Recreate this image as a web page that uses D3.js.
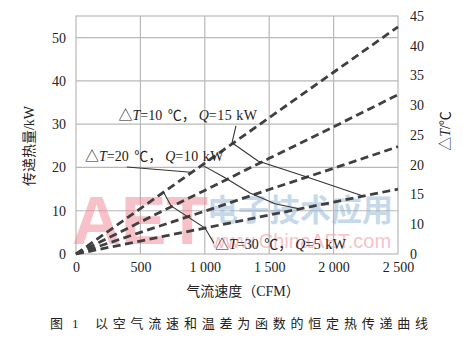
<!DOCTYPE html>
<html><head><meta charset="utf-8">
<script src="https://cdn.jsdelivr.net/npm/d3@7"></script>
<style>
body{margin:0;background:#fff;}
svg{display:block;}
text{font-family:"Liberation Serif","Noto Sans CJK SC",serif;}
</style></head>
<body>
<svg id="c" width="475" height="340"></svg>
<script>
// ---- data ----
const cfm = [0, 500, 1000, 1500, 2000, 2500];
const line1 = [0, 10.5, 21, 31.5, 42, 52.5];
const line2 = [0, 7.4, 14.7, 22.1, 29.4, 36.8];
const line3 = [0, 5.0, 9.9, 14.9, 19.8, 24.8];
const line4 = [0, 3.0, 6.0, 9.0, 12.0, 15.0];
const xTickLabels = ["0", "500", "1 000", "1 500", "2 000", "2 500"];
const yTicks = [0, 10, 20, 30, 40, 50];
const rightTickLabels = ["45", "40", "35", "30", "25", "20", "15", "10", "0"];
// constant-Q curves (CFM, kW)
const curveA = [[1211, 25.7], [1413, 21.5], [1793, 17.8], [2228, 13.4]];
const leaderA = [[1242, 29.6], [1211, 25.7]];
const curveB = [[976, 20.6], [1157, 17.6], [1351, 14.1], [1545, 11.6], [1739, 10.4]];
const leaderB = [[394, 20.1], [893, 18.9]];
const curveC = [[678, 14.4], [738, 11.1], [1002, 6.0], [1071, 2.5]];
const labels = [
  {dt: "10", q: "15", at: [330, 31.0]},
  {dt: "20", q: "10", at: [70, 21.4]},
  {dt: "30", q: "5", at: [1080, 1.15]}
];

// ---- chart ----
const svg = d3.select("#c");
const x = d3.scaleLinear().domain([0, 2500]).range([76, 398]);
const y = d3.scaleLinear().domain([0, 55]).range([254, 16]);
const yr = d3.scalePoint().domain(rightTickLabels).range([16, 254]);
const gridColor = "#b8b8b8";
const cjk = "Noto Sans CJK SC";

// grid
const g = svg.append("g");
g.selectAll("line.v").data(cfm.slice(1, -1)).join("line")
  .attr("x1", d => x(d)).attr("x2", d => x(d)).attr("y1", y(55)).attr("y2", y(0))
  .attr("stroke", gridColor).attr("stroke-width", 1.2);
g.selectAll("line.h").data(yTicks.slice(1)).join("line")
  .attr("x1", x(0)).attr("x2", x(2500)).attr("y1", d => y(d)).attr("y2", d => y(d))
  .attr("stroke", gridColor).attr("stroke-width", 1.2);
g.append("rect").attr("x", x(0)).attr("y", y(55)).attr("width", x(2500) - x(0)).attr("height", y(0) - y(55))
  .attr("fill", "none").attr("stroke", gridColor).attr("stroke-width", 1.2);

// watermark
const wm = svg.append("g");
wm.append("text").attr("x", 72).attr("y", 244).text("AET")
  .style("font-family", "Liberation Sans").style("font-weight", "bold").style("font-size", "68px")
  .attr("fill", "#ef8592").attr("opacity", 0.5);
wm.append("text").attr("x", 207).attr("y", 221).text("电子技术应用")
  .style("font-family", cjk).style("font-weight", "bold").style("font-size", "31px")
  .attr("fill", "#8fb4d6").attr("opacity", 0.5);
wm.append("text").attr("x", 211).attr("y", 248).text("www.ChinaAET.com")
  .style("font-family", "Liberation Sans").style("font-size", "20px")
  .attr("fill", "#f29aa5").attr("opacity", 0.6);

// dashed lines
const lineGen = d3.line().x((d, i) => x(cfm[i])).y(d => y(d));
svg.selectAll("path.dash").data([line1, line2, line3, line4]).join("path")
  .attr("d", lineGen).attr("fill", "none").attr("stroke", "#404040")
  .attr("stroke-width", 2.8).attr("stroke-dasharray", "8,4.5");

// solid curves
const pLine = d3.line().x(d => x(d[0])).y(d => y(d[1]));
svg.selectAll("path.solid").data([curveA, leaderA, curveB, leaderB, curveC]).join("path")
  .attr("d", pLine).attr("fill", "none").attr("stroke", "#333").attr("stroke-width", 1.1);

// labels
labels.forEach(l => {
  const t = svg.append("text").attr("x", x(l.at[0])).attr("y", y(l.at[1]))
    .style("font-size", "14px").attr("fill", "#222");
  t.append("tspan").text("△").style("font-family", cjk);
  t.append("tspan").text("T").style("font-style", "italic");
  t.append("tspan").text("=" + l.dt + "\u00a0");
  t.append("tspan").attr("dx", 2).text("℃，").style("font-family", cjk);
  t.append("tspan").attr("dx", 3).text("Q").style("font-style", "italic");
  t.append("tspan").text("=" + l.q + "\u00a0kW").style("letter-spacing", "0.5px");
});

// axes
const ax = svg.append("g").attr("transform", `translate(0,${y(0)})`)
  .call(d3.axisBottom(x).tickValues(cfm).tickFormat((d, i) => xTickLabels[i]).tickSize(0).tickPadding(8));
const ay = svg.append("g").attr("transform", `translate(${x(0)},0)`)
  .call(d3.axisLeft(y).tickValues(yTicks).tickSize(0).tickPadding(10));
const ar = svg.append("g").attr("transform", `translate(${x(2500)},0)`)
  .call(d3.axisRight(yr).tickSize(0).tickPadding(12));
[ax, ay, ar].forEach(a => {
  a.select(".domain").remove();
  a.selectAll("text").style("font-size", "14px").attr("fill", "#222")
    .style("font-family", "Liberation Serif");
});

// axis titles
svg.append("text").attr("x", 243).attr("y", 296).attr("text-anchor", "middle")
  .style("font-size", "14px").attr("fill", "#222").text("气流速度（CFM）");
svg.append("text").attr("transform", "translate(34,146) rotate(-90)").attr("text-anchor", "middle")
  .style("font-size", "14px").attr("fill", "#222").text("传递热量/kW");
const rt = svg.append("text").attr("transform", "translate(450,131) rotate(-90)").attr("text-anchor", "middle")
  .style("font-size", "14px").attr("fill", "#222");
rt.append("tspan").text("△").style("font-family", cjk);
rt.append("tspan").text("T").style("font-style", "italic");
rt.append("tspan").text("/");
rt.append("tspan").text("℃").style("font-family", cjk);

// caption
svg.append("text").attr("x", 50).attr("y", 328).style("font-size", "13px").attr("fill", "#222").text("图");
svg.append("text").attr("x", 72).attr("y", 328).style("font-size", "13px").attr("fill", "#222").text("1");
svg.append("text").attr("x", 95).attr("y", 328).style("font-size", "13px")
  .attr("textLength", 333).attr("lengthAdjust", "spacing")
  .attr("fill", "#222").text("以空气流速和温差为函数的恒定热传递曲线");
</script>
</body></html>
